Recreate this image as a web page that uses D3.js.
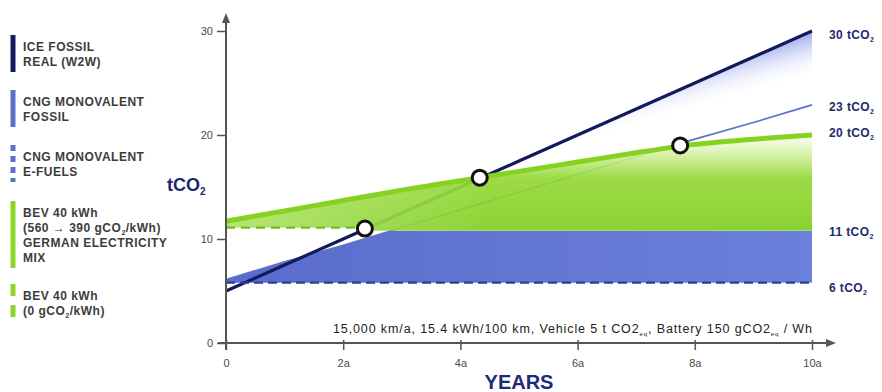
<!DOCTYPE html>
<html><head><meta charset="utf-8">
<script src="https://cdn.jsdelivr.net/npm/d3@7"></script>
<style>
body{margin:0;background:#fff;}
svg{display:block;font-family:"Liberation Sans",Arial,sans-serif;}
</style></head><body>
<svg id="chart" width="882" height="392"></svg>
<script>
// ---------- data ----------
const years = [0,1,2,3,4,5,6,7,8,9,10];
const iceFossil = [5.0,7.5,10.0,12.5,15.0,17.5,20.0,22.5,25.0,27.5,30.0];
const cngFossil = [6.1,7.8,9.4,11.1,12.8,14.5,16.2,17.9,19.6,21.2,22.9];
const bevGerman = [11.7,12.7,13.7,14.7,15.6,16.5,17.4,18.3,19.1,19.6,20.0];
const cngEfuelLevel = 5.8;
const bevZeroLevel = 11.1;
const bandTop = 10.8;
const crossYears = [2.37, 4.33, 7.75];
const crossValues = [11.0, 15.9, 19.0];
const yTicks = [0,10,20,30];
const xTicks = [0,2,4,6,8,10];
const xTickLabels = ["0","2a","4a","6a","8a","10a"];
const endLabelValues = [30,23,20,11,6];
const endLabelTexts = ["30 tCO","23 tCO","20 tCO","11 tCO","6 tCO"];
const legendLabels = [
  [["ICE FOSSIL"],["REAL (W2W)"]],
  [["CNG MONOVALENT"],["FOSSIL"]],
  [["CNG MONOVALENT"],["E-FUELS"]],
  [["BEV 40 kWh"],["(560 \u2192 390 gCO",{sub:"2"},"/kWh)"],["GERMAN ELECTRICITY"],["MIX"]],
  [["BEV 40 kWh"],["(0 gCO",{sub:"2"},"/kWh)"]]
];
const legendColors = ["#141a5e","#5a71c9","#5a71c9","#8fd42c","#8fd42c"];
const legendDashed = [false,false,true,false,true];
const footnote = ["15,000 km/a, 15.4 kWh/100 km, Vehicle 5 t CO2",{sub:"eq"},", Battery 150 gCO2",{sub:"eq"}," / Wh"];

// ---------- setup ----------
const svg = d3.select("#chart");
const W = 882, H = 392;
const x = d3.scaleLinear().domain([0,10]).range([226,812]);
const y = d3.scaleLinear().domain([0,30]).range([343,31]);
const defs = svg.append("defs");
svg.append("rect").attr("width",W).attr("height",H).attr("fill","#fff");

function rich(sel, parts, subSize, subDy){
  let pending = 0;
  parts.forEach(p=>{
    if (typeof p === "string") {
      const t = sel.append("tspan").text(p);
      if (pending) { t.attr("dy", pending); pending = 0; }
    } else {
      sel.append("tspan").attr("font-size",subSize).attr("dy",subDy).text(p.sub);
      pending = -subDy;
    }
  });
}

// gradients
const iceShade = defs.append("linearGradient").attr("id","iceShade")
  .attr("gradientUnits","userSpaceOnUse")
  .attr("x1",x(10)).attr("y1",y(30)).attr("x2",x(10)+12).attr("y2",y(30)+42);
iceShade.append("stop").attr("offset",0).attr("stop-color","#8598e6").attr("stop-opacity",0.85);
iceShade.append("stop").attr("offset",1).attr("stop-color","#ffffff").attr("stop-opacity",0);

const blueGrad = defs.append("linearGradient").attr("id","blueGrad")
  .attr("gradientUnits","userSpaceOnUse")
  .attr("x1",x(0)).attr("y1",0).attr("x2",x(10)).attr("y2",0);
blueGrad.append("stop").attr("offset",0).attr("stop-color","#596ccb");
blueGrad.append("stop").attr("offset",1).attr("stop-color","#6b80da");

const greenGrad = defs.append("linearGradient").attr("id","greenGrad")
  .attr("gradientUnits","userSpaceOnUse")
  .attr("x1",0).attr("y1",y(20)).attr("x2",0).attr("y2",y(bandTop));
greenGrad.append("stop").attr("offset",0).attr("stop-color","#fbfef5");
greenGrad.append("stop").attr("offset",0.18).attr("stop-color","#daf3ad");
greenGrad.append("stop").attr("offset",0.45).attr("stop-color","#94d838");
greenGrad.append("stop").attr("offset",1).attr("stop-color","#80cf22");

const greenLighten = defs.append("linearGradient").attr("id","greenLighten")
  .attr("gradientUnits","userSpaceOnUse")
  .attr("x1",x(0)).attr("y1",0).attr("x2",x(4.5)).attr("y2",0);
greenLighten.append("stop").attr("offset",0).attr("stop-color","#f4ffd0").attr("stop-opacity",0.4);
greenLighten.append("stop").attr("offset",1).attr("stop-color","#f4ffd0").attr("stop-opacity",0);

// clip paths
const clipGreen = defs.append("clipPath").attr("id","clipGreen");
clipGreen.append("rect").attr("x",x(0)-2).attr("y",0)
  .attr("width",x(crossYears[0])-x(0)+2).attr("height",y(bevZeroLevel));
clipGreen.append("rect").attr("x",x(crossYears[0])).attr("y",0)
  .attr("width",x(10)-x(crossYears[0])+2).attr("height",y(bandTop));
const clipBlue = defs.append("clipPath").attr("id","clipBlue");
clipBlue.append("rect").attr("x",0).attr("y",y(bandTop)).attr("width",W).attr("height",H-y(bandTop));

// ---------- fills ----------
svg.append("path")
  .attr("d", d3.area().x((d,i)=>x(years[i])).y0((d,i)=>y(cngFossil[i])).y1(d=>y(d))(iceFossil))
  .attr("fill","url(#iceShade)");

svg.append("path")
  .attr("clip-path","url(#clipBlue)")
  .attr("d", d3.area().x((d,i)=>x(years[i])).y0(y(cngEfuelLevel)).y1(d=>y(d))(cngFossil))
  .attr("fill","url(#blueGrad)");

// lines under green
svg.append("path")
  .attr("d", d3.line().x((d,i)=>x(years[i])).y(d=>y(d))(cngFossil))
  .attr("fill","none").attr("stroke","#5b73c9").attr("stroke-width",1.7);
svg.append("path")
  .attr("d", d3.line().x((d,i)=>x(years[i])).y(d=>y(d))(iceFossil))
  .attr("fill","none").attr("stroke","#111a5c").attr("stroke-width",3.2);

// green fill
const greenArea = d3.area().curve(d3.curveMonotoneX).x((d,i)=>x(years[i])).y0(y(bandTop)).y1(d=>y(d))(bevGerman);
svg.append("path")
  .attr("clip-path","url(#clipGreen)")
  .attr("d", greenArea)
  .attr("fill","url(#greenGrad)").attr("opacity",0.92);
svg.append("path")
  .attr("clip-path","url(#clipGreen)")
  .attr("d", greenArea)
  .attr("fill","url(#greenLighten)");

// dashed lines
svg.append("line")
  .attr("x1",x(0)).attr("x2",x(10)).attr("y1",y(cngEfuelLevel)).attr("y2",y(cngEfuelLevel))
  .attr("stroke","#2d3f91").attr("stroke-width",2.2).attr("stroke-dasharray","9,5");
svg.append("line")
  .attr("x1",x(0)).attr("x2",x(crossYears[0])).attr("y1",y(bevZeroLevel)).attr("y2",y(bevZeroLevel))
  .attr("stroke","#74bb22").attr("stroke-width",2.2).attr("stroke-dasharray","9,6");

// green curve
svg.append("path")
  .attr("d", d3.line().curve(d3.curveMonotoneX).x((d,i)=>x(years[i])).y(d=>y(d))(bevGerman))
  .attr("fill","none").attr("stroke","#86d220").attr("stroke-width",5);

// circles
svg.selectAll("circle.cross").data(crossYears).join("circle").attr("class","cross")
  .attr("cx",d=>x(d)).attr("cy",(d,i)=>y(crossValues[i])).attr("r",7.5)
  .attr("fill","#fff").attr("stroke","#111").attr("stroke-width",3);

// ---------- axes ----------
const axisColor = "#555";
svg.append("line").attr("x1",x(0)).attr("x2",x(0)).attr("y1",y(0)+7).attr("y2",y(30)-12)
  .attr("stroke",axisColor).attr("stroke-width",2);
svg.append("path").attr("d",`M${x(0)},${y(30)-18} L${x(0)-4},${y(30)-8} L${x(0)+4},${y(30)-8} Z`).attr("fill",axisColor);
svg.append("line").attr("x1",x(0)-8).attr("x2",x(10)+16).attr("y1",y(0)).attr("y2",y(0))
  .attr("stroke",axisColor).attr("stroke-width",2);
svg.append("path").attr("d",`M${x(10)+24},${y(0)} L${x(10)+14},${y(0)-4} L${x(10)+14},${y(0)+4} Z`).attr("fill",axisColor);

const yAx = svg.append("g").attr("transform",`translate(${x(0)},0)`)
  .call(d3.axisLeft(y).tickValues(yTicks).tickSize(9).tickSizeOuter(0).tickPadding(4));
yAx.select(".domain").remove();
yAx.selectAll("line").attr("stroke",axisColor).attr("stroke-width",1.5);
yAx.selectAll("text").attr("fill","#4a4a4a").attr("font-size",11).attr("font-family","Liberation Sans, Arial, sans-serif");

const xAx = svg.append("g").attr("transform",`translate(0,${y(0)})`)
  .call(d3.axisBottom(x).tickValues(xTicks).tickFormat((d,i)=>xTickLabels[i]).tickSize(7).tickSizeOuter(0).tickPadding(9));
xAx.select(".domain").remove();
xAx.selectAll("line").attr("stroke",axisColor).attr("stroke-width",1.5).attr("y1",-3);
xAx.selectAll("text").attr("fill","#4a4a4a").attr("font-size",11).attr("font-family","Liberation Sans, Arial, sans-serif");

// axis titles
const tco = svg.append("text").attr("x",167).attr("y",191).attr("font-size",18).attr("font-weight","bold").attr("fill","#1c2670");
rich(tco, ["tCO",{sub:"2"}], 10, 4);
svg.append("text").attr("x",519).attr("y",389).attr("text-anchor","middle").attr("font-size",20)
  .attr("font-weight","bold").attr("fill","#1c2a78").text("YEARS");

// end labels
const endDy = [4,3,-2,3,7];
endLabelValues.forEach((v,i)=>{
  const t = svg.append("text").attr("x",829).attr("y",y(v)+endDy[i]+4)
    .attr("font-size",12).attr("font-weight","bold").attr("fill","#1f2a6e").attr("letter-spacing",0.4);
  rich(t, [endLabelTexts[i],{sub:"2"}], 7, 3);
});

// footnote
const fn = svg.append("text").attr("x",333).attr("y",333).attr("font-size",12.5).attr("fill","#222")
  .attr("textLength",479).attr("lengthAdjust","spacing");
rich(fn, footnote, 6, 3);

// ---------- legend ----------
const legendFirst = [47,102,157,213,296];
const lineStep = 15;
legendLabels.forEach((lines,i)=>{
  const top = legendFirst[i]-12, bottom = legendFirst[i]+(lines.length-1)*lineStep+10;
  svg.append("line").attr("x1",13).attr("x2",13).attr("y1",top).attr("y2",bottom)
    .attr("stroke",legendColors[i]).attr("stroke-width",5)
    .attr("stroke-dasharray",legendDashed[i] ? (i===2?"6,5":"12,9") : null);
  lines.forEach((parts,j)=>{
    const t = svg.append("text").attr("x",23).attr("y",legendFirst[i]+j*lineStep+4)
      .attr("font-size",12).attr("font-weight","bold").attr("fill","#3c3c3c").attr("letter-spacing",0.5);
    rich(t, parts, 7, 3);
  });
});
</script>
</body></html>
